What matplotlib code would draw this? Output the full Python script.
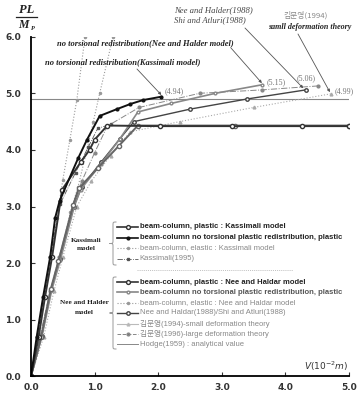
import matplotlib
matplotlib.use('Agg')
import matplotlib.pyplot as plt
from matplotlib.path import Path
from matplotlib.patches import PathPatch

# ---- data ----
kas_pl_x = [0, 0.12, 0.22, 0.33, 0.49, 0.78, 0.92, 1.0, 1.2, 2.03, 3.16, 4.26, 5.0]
kas_pl_y = [0, 0.7, 1.4, 2.1, 3.3, 3.78, 4.0, 4.18, 4.43, 4.42, 4.42, 4.42, 4.42]

kas_nt_x = [0, 0.09, 0.19, 0.3, 0.38, 0.45, 0.74, 0.88, 1.08, 1.35, 1.56, 1.76, 2.05]
kas_nt_y = [0, 0.7, 1.4, 2.1, 2.8, 3.1, 3.85, 4.18, 4.6, 4.72, 4.81, 4.88, 4.94]

kas_el_x = [0, 0.1, 0.2, 0.31, 0.41, 0.5, 0.61, 0.72, 0.85]
kas_el_y = [0, 0.7, 1.4, 2.1, 2.8, 3.47, 4.17, 4.88, 6.0]

kas95_x = [0, 0.11, 0.3, 0.46, 0.7, 0.9, 1.05, 1.25]
kas95_y = [0, 0.75, 2.1, 3.05, 3.6, 4.05, 4.38, 4.45]

nh_pl_x = [0, 0.16, 0.31, 0.43, 0.66, 0.75, 1.05, 1.38, 1.68, 3.2, 5.0]
nh_pl_y = [0, 0.7, 1.54, 2.03, 3.02, 3.32, 3.68, 4.07, 4.43, 4.43, 4.43]

nh_nt_x = [0, 0.17, 0.33, 0.46, 0.68, 0.78, 1.1, 1.4, 1.68, 2.2, 2.9, 3.63]
nh_nt_y = [0, 0.7, 1.54, 2.05, 3.0, 3.3, 3.75, 4.2, 4.67, 4.82, 5.0, 5.15]

nh_el_x = [0, 0.16, 0.31, 0.45, 0.62, 0.74, 0.89, 0.98, 1.08, 1.29]
nh_el_y = [0, 0.7, 1.5, 2.1, 2.9, 3.35, 4.05, 4.5, 5.0, 6.0]

nh88_x = [0, 0.17, 0.32, 0.45, 0.67, 0.8, 1.1, 1.4, 1.62, 2.5, 3.4, 4.32]
nh88_y = [0, 0.72, 1.54, 2.08, 3.0, 3.35, 3.78, 4.2, 4.5, 4.72, 4.9, 5.06]

kim94_x = [0, 0.2, 0.36, 0.5, 0.72, 0.95, 1.25, 1.56, 2.34, 3.5, 4.71]
kim94_y = [0, 0.7, 1.5, 2.1, 3.0, 3.45, 3.9, 4.32, 4.5, 4.75, 4.99]

kim96_x = [0, 0.14, 0.3, 0.44, 0.66, 0.8, 1.0, 1.2, 1.7, 2.65, 3.63, 4.51]
kim96_y = [0, 0.7, 1.5, 2.1, 3.0, 3.45, 3.95, 4.42, 4.75, 5.0, 5.06, 5.13]

hodge_x = [0, 5.0]
hodge_y = [4.9, 4.9]

xticks = [0, 1, 2, 3, 4, 5]
yticks = [0, 1, 2, 3, 4, 5, 6]

plt.rcParams['font.family'] = ['DejaVu Sans', 'Noto Sans CJK KR']

fig = plt.figure(figsize=(3.58, 4.01), dpi=100)
ax = fig.add_axes([31/358, (401-376.3)/401, 318/358, 339.6/401])

ax.plot(hodge_x, hodge_y, color='#888888', lw=0.8, zorder=1)
ax.plot(kas_el_x, kas_el_y, color='#999999', ls=':', lw=0.8, marker='o', ms=1.5)
ax.plot(nh_el_x, nh_el_y, color='#999999', ls=':', lw=0.8, marker='o', ms=1.5)
ax.plot(kas95_x, kas95_y, color='#555555', ls='-.', lw=0.6, marker='s', ms=1.8)
ax.plot(kim94_x, kim94_y, color='#aaaaaa', ls=':', lw=0.8, marker='^', ms=2)
ax.plot(kim96_x, kim96_y, color='#888888', ls='-.', lw=0.7, marker='o', ms=2)
ax.plot(nh88_x, nh88_y, color='#444444', lw=1.0, marker='o', ms=2.5, mfc='white')
ax.plot(nh_nt_x, nh_nt_y, color='#888888', lw=1.2, marker='o', ms=2, mfc='white')
ax.plot(nh_pl_x, nh_pl_y, color='#666666', lw=1.4, marker='o', ms=3, mfc='white')
ax.plot(kas_pl_x, kas_pl_y, color='#333333', lw=1.4, marker='o', ms=3, mfc='white')
ax.plot(kas_nt_x, kas_nt_y, color='#111111', lw=1.4, marker='o', ms=2)

ax.set_xlim(0, 5)
ax.set_ylim(0, 6)
ax.set_xticks(xticks)
ax.set_yticks(yticks)
ax.set_xticklabels(['%.1f' % v for v in xticks])
ax.set_yticklabels(['%.1f' % v for v in yticks])
ax.tick_params(direction='in', length=3, width=0.8, labelsize=6.5, colors='#333333')
ax.tick_params(axis='y', pad=7)
ax.tick_params(axis='x', pad=5)
for lab in ax.get_xticklabels() + ax.get_yticklabels():
    lab.set_fontweight('bold')
for s in ['top', 'right']:
    ax.spines[s].set_visible(False)
for s in ['left', 'bottom']:
    ax.spines[s].set_linewidth(1.3)
ax.set_facecolor('none')

# overlay in pixel coordinates for labels, legend, braces
ov = fig.add_axes([0, 0, 1, 1])
ov.set_xlim(0, 358)
ov.set_ylim(401, 0)
ov.axis('off')

serif = dict(family='Liberation Serif', fontweight='bold', fontstyle='italic')

# y label  PL / M_P
ov.text(27, 10, 'PL', ha='center', va='center', fontsize=9, color='#222222', **serif)
ov.plot([16, 37], [17, 17], color='#222222', lw=0.9)
ov.text(23, 25.5, 'M', ha='center', va='center', fontsize=8.5, color='#222222', **serif)
ov.text(33, 28, 'P', ha='center', va='center', fontsize=4.5, color='#222222', **serif)

ov.text(348, 366, r'$V(10^{-2}m)$', ha='right', va='center', fontsize=6.5,
        color='#333333', family='Liberation Serif', fontstyle='italic')

# annotations
ov.text(57, 43, 'no torsional redistribution(Nee and Halder model)', ha='left', va='center',
        fontsize=6.1, color='#222222', **serif)
ov.text(45, 62, 'no torsional redistribution(Kassimali model)', ha='left', va='center',
        fontsize=6.1, color='#222222', **serif)
ov.text(174, 10, 'Nee and Halder(1988)', ha='left', va='center', fontsize=6.2, color='#444444',
        family='Liberation Serif', fontstyle='italic')
ov.text(174, 20.5, 'Shi and Atluri(1988)', ha='left', va='center', fontsize=6.2, color='#444444',
        family='Liberation Serif', fontstyle='italic')
ov.text(306, 15, '김문영(1994)', ha='center', va='center', fontsize=5.6, color='#888888',
        family=['Noto Sans CJK KR', 'DejaVu Sans'])
ov.text(310, 27, 'samll deformation theory', ha='center', va='center', fontsize=5.8,
        color='#222222', **serif)

arrow = dict(arrowstyle='-|>', color='#555555', lw=0.6, mutation_scale=4, shrinkA=0, shrinkB=0)
ax.annotate('', xy=(2.05, 4.97), xytext=(137, 69), textcoords=ov.transData, arrowprops=arrow)
ax.annotate('', xy=(3.63, 5.18), xytext=(231, 48), textcoords=ov.transData, arrowprops=arrow)
ax.annotate('', xy=(4.28, 5.09), xytext=(245, 28), textcoords=ov.transData, arrowprops=arrow)
ax.annotate('', xy=(4.7, 5.02), xytext=(298, 34), textcoords=ov.transData, arrowprops=arrow)

vlab = dict(fontsize=5.8, color='#777777', family='Liberation Serif', va='center', ha='left')
ax.text(2.1, 5.03, '(4.94)', **vlab)
ax.text(3.7, 5.2, '(5.15)', **vlab)
ax.text(4.17, 5.27, '(5.06)', **vlab)
ax.text(4.78, 5.03, '(4.99)', **vlab)

# legend
kas_rows = [
    ('beam-column, plastic : Kassimali model', '#333333', '-', 'o', 'white', 1.2, 2.8, True, '#222222'),
    ('beam-column no torsional plastic redistribution, plastic', '#111111', '-', 'o', '#111111', 1.2, 2, True, '#222222'),
    ('beam-column, elastic : Kassimali model', '#999999', ':', 'o', '#999999', 0.8, 1.5, False, '#888888'),
    ('Kassimali(1995)', '#555555', '-.', 's', '#333333', 0.6, 2, False, '#888888'),
]
nh_rows = [
    ('beam-column, plastic : Nee and Haldar model', '#333333', '-', 'o', 'white', 1.2, 2.8, True, '#222222'),
    ('beam-column no torsional plastic redistribution, plastic', '#888888', '-', 'o', 'white', 1.2, 2, True, '#555555'),
    ('beam-column, elastic : Nee and Haldar model', '#999999', ':', 'o', '#999999', 0.8, 1.5, False, '#888888'),
    ('Nee and Haldar(1988)/Shi and Atluri(1988)', '#444444', '-', 'o', 'white', 1.0, 2.5, False, '#888888'),
    ('김문영(1994)-small deformation theory', '#bbbbbb', '-', '^', '#777777', 0.8, 2, False, '#888888'),
    ('김문영(1996)-large deformation theory', '#888888', '--', 'o', '#777777', 0.7, 2, False, '#888888'),
    ('Hodge(1959) : analytical value', '#888888', '-', None, None, 0.7, 0, False, '#888888'),
]
kas_ys = [227, 237.5, 248, 259]
nh_ys = [282, 292, 302.5, 313, 323.5, 334, 344]


def draw_rows(rows, ys):
    for (lab, c, ls, mk, mfc, lw, ms, bold, tc), y in zip(rows, ys):
        ov.plot([117, 138], [y, y], color=c, ls=ls, lw=lw)
        if mk:
            ov.plot([127.5], [y], color=c, marker=mk, ms=ms, mfc=mfc, mec=c, ls='none')
        ov.text(139.5, y, lab, ha='left', va='center', fontsize=5.5, color=tc,
                fontweight='bold' if bold else 'normal',
                family=['Liberation Sans', 'Noto Sans CJK KR'])


draw_rows(kas_rows, kas_ys)
draw_rows(nh_rows, nh_ys)
ov.plot([137, 293], [270, 270], color='#aaaaaa', ls=(0, (1.5, 1.5)), lw=0.5)


def brace(x0, top, bot, w=3.5, color='#999999'):
    mid = (top + bot) / 2
    verts = [(x0 + w, top), (x0, top), (x0, top), (x0, top + w),
             (x0, mid - w),
             (x0, mid), (x0, mid), (x0 - w, mid),
             (x0, mid), (x0, mid), (x0, mid + w),
             (x0, bot - w),
             (x0, bot), (x0, bot), (x0 + w, bot)]
    codes = [Path.MOVETO, Path.CURVE4, Path.CURVE4, Path.CURVE4,
             Path.LINETO,
             Path.CURVE4, Path.CURVE4, Path.CURVE4,
             Path.CURVE4, Path.CURVE4, Path.CURVE4,
             Path.LINETO,
             Path.CURVE4, Path.CURVE4, Path.CURVE4]
    ov.add_patch(PathPatch(Path(verts, codes), fc='none', ec=color, lw=0.7))


brace(113, 222, 265)
brace(113, 277, 349)

grp = dict(ha='center', va='center', fontsize=5.2, color='#222222', family='Liberation Serif', fontweight='bold')
ov.text(86, 240, 'Kassimali', **grp)
ov.text(86, 248, 'model', **grp)
ov.text(84, 303, 'Nee and Halder', **grp)
ov.text(84, 312, 'model', **grp)

fig.savefig('out.png', dpi=100)
